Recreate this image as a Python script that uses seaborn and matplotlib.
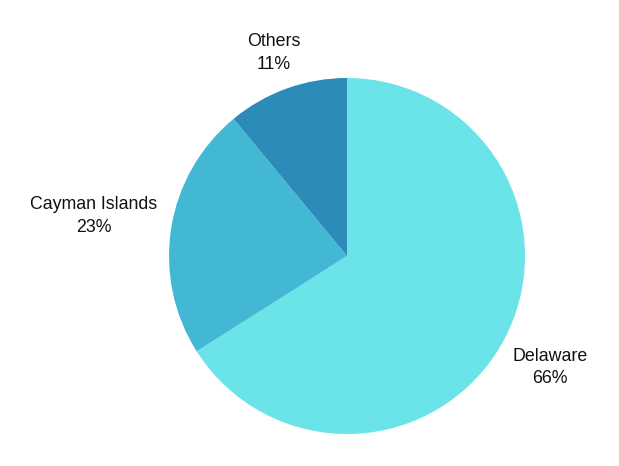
import numpy as np
import matplotlib
matplotlib.use("Agg")
import matplotlib.pyplot as plt
import seaborn as sns

# data
regions = ["Delaware", "Cayman Islands", "Others"]
shares = [66, 23, 11]
colors = ["#6ae4e8", "#42b8d5", "#2d8bba"]
# how far out each label sits (in pie radii)
label_dist = [1.30, 1.44, 1.21]

sns.set_theme(style="white")
plt.rcParams['font.family'] = ['Liberation Sans', 'DejaVu Sans']

fig = plt.figure(figsize=(6.19, 4.66), dpi=100)
ax = fig.add_axes([0, 0, 1, 1])
ax.set_xlim(0, 619)
ax.set_ylim(0, 466)
ax.set_aspect("equal")
ax.axis("off")

cx, cy, r = 347, 210, 178
wedges, _ = ax.pie(shares, colors=sns.color_palette(colors), startangle=90,
                   counterclock=False, center=(cx, cy), radius=r,
                   wedgeprops=dict(linewidth=0))

for w, name, pct, d in zip(wedges, regions, shares, label_dist):
    mid = np.deg2rad((w.theta1 + w.theta2) / 2)
    ax.text(cx + d * r * np.cos(mid), cy + d * r * np.sin(mid),
            f"{name}\n{pct}%", ha="center", va="center",
            fontsize=12.8, color="#111111", linespacing=1.45)

ax.set_xlim(0, 619)
ax.set_ylim(0, 466)

fig.savefig("out.png", dpi=100)
